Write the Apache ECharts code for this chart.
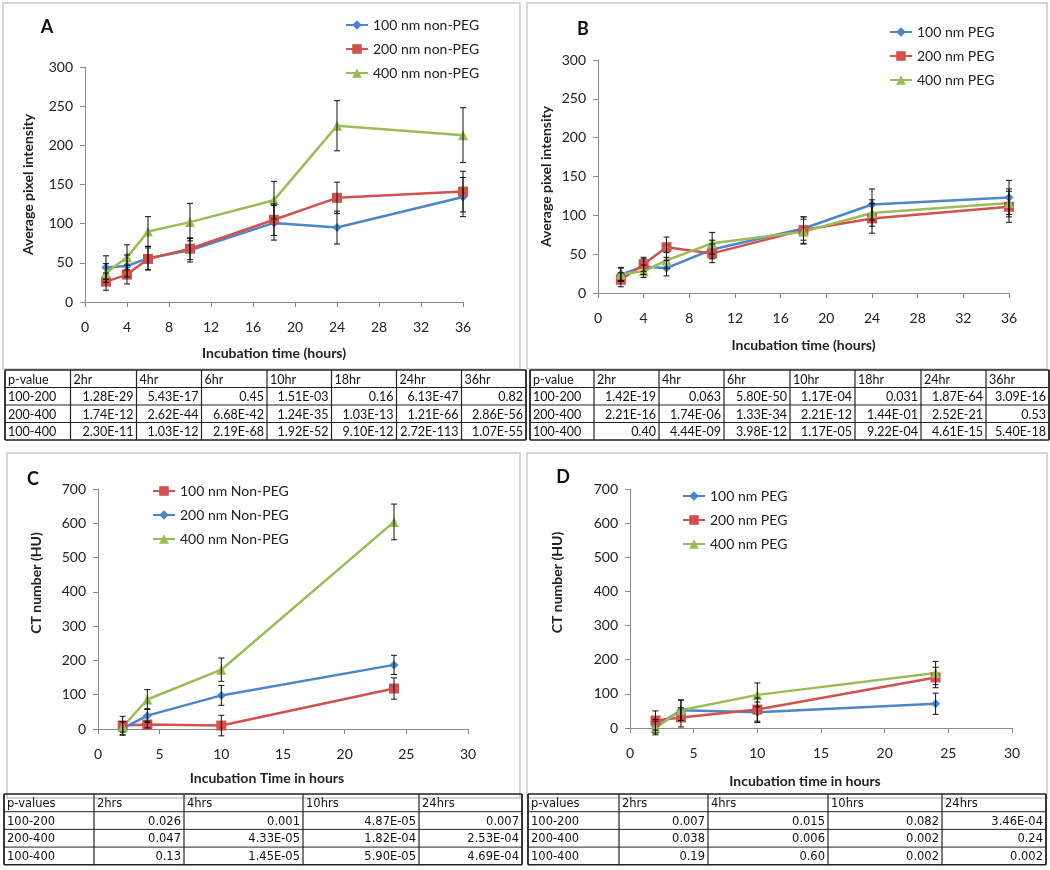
<!DOCTYPE html>
<html><head><meta charset="utf-8">
<script src="https://cdn.jsdelivr.net/npm/echarts@6/dist/echarts.min.js"></script>
<style>html,body{margin:0;padding:0;background:#fff}#c{width:1050px;height:870px}</style>
</head><body><div id="c"></div>
<script>
// ---------- DATA ----------
const hoursAB = [2, 4, 6, 10, 18, 24, 36];
const hoursCD = [2, 4, 10, 24];

// Panel A (non-PEG, pixel intensity)
const a100 = [44, 46, 56, 66, 101, 95, 134];
const a100Err = [15, 14, 15, 15, 22, 21, 25];
const a200 = [26, 35, 55, 68, 105, 133, 141];
const a200Err = [11, 12, 14, 14, 20, 20, 26];
const a400 = [37, 57, 90, 102, 130, 225, 213];
const a400Err = [12, 16, 19, 24, 24, 32, 35];

// Panel B (PEG, pixel intensity)
const b100 = [24, 34, 32, 56, 83, 114, 123];
const b100Err = [9, 10, 10, 12, 15, 20, 22];
const b200 = [17, 37, 59, 51, 81, 96, 111];
const b200Err = [9, 9, 13, 12, 17, 19, 20];
const b400 = [24, 28, 42, 64, 79, 103, 116];
const b400Err = [8, 8, 10, 14, 16, 17, 18];

// Panel C (non-PEG, CT number)
const c100 = [10, 13, 10, 118];
const c100Err = [27, 10, 30, 31];
const c200 = [2, 39, 98, 187];
const c200Err = [20, 20, 29, 28];
const c400 = [6, 86, 173, 604];
const c400Err = [15, 29, 34, 52];

// Panel D (PEG, CT number)
const d100 = [5, 52, 46, 71];
const d100Err = [20, 30, 30, 31];
const d200 = [22, 31, 54, 148];
const d200Err = [28, 28, 34, 30];
const d400 = [0, 52, 97, 161];
const d400Err = [20, 30, 35, 34];

// Tables
const tableAHead = ['p-value', '2hr', '4hr', '6hr', '10hr', '18hr', '24hr', '36hr'];
const tableARows = [
  ['100-200', '1.28E-29', '5.43E-17', '0.45', '1.51E-03', '0.16', '6.13E-47', '0.82'],
  ['200-400', '1.74E-12', '2.62E-44', '6.68E-42', '1.24E-35', '1.03E-13', '1.21E-66', '2.86E-56'],
  ['100-400', '2.30E-11', '1.03E-12', '2.19E-68', '1.92E-52', '9.10E-12', '2.72E-113', '1.07E-55']
];
const tableBHead = ['p-value', '2hr', '4hr', '6hr', '10hr', '18hr', '24hr', '36hr'];
const tableBRows = [
  ['100-200', '1.42E-19', '0.063', '5.80E-50', '1.17E-04', '0.031', '1.87E-64', '3.09E-16'],
  ['200-400', '2.21E-16', '1.74E-06', '1.33E-34', '2.21E-12', '1.44E-01', '2.52E-21', '0.53'],
  ['100-400', '0.40', '4.44E-09', '3.98E-12', '1.17E-05', '9.22E-04', '4.61E-15', '5.40E-18']
];
const tableCHead = ['p-values', '2hrs', '4hrs', '10hrs', '24hrs'];
const tableCRows = [
  ['100-200', '0.026', '0.001', '4.87E-05', '0.007'],
  ['200-400', '0.047', '4.33E-05', '1.82E-04', '2.53E-04'],
  ['100-400', '0.13', '1.45E-05', '5.90E-05', '4.69E-04']
];
const tableDHead = ['p-values', '2hrs', '4hrs', '10hrs', '24hrs'];
const tableDRows = [
  ['100-200', '0.007', '0.015', '0.082', '3.46E-04'],
  ['200-400', '0.038', '0.006', '0.002', '0.24'],
  ['100-400', '0.19', '0.60', '0.002', '0.002']
];

// ---------- STYLE / LAYOUT ----------
const BLUE = '#4A86C8', RED = '#D0524E', GREEN = '#9BBB59';
const FONT = 'Lato, "Open Sans", sans-serif';
const AXC = '#8a8a8a';

const chart = echarts.init(document.getElementById('c'));

function pairs(xs, ys) { return xs.map((x, i) => [x, ys[i]]); }
function errData(xs, ys, es) { return xs.map((x, i) => [x, ys[i] - es[i], ys[i] + es[i]]); }

function lineSeries(name, idx, xs, ys, color, symbol, size) {
  return {
    name, type: 'line', xAxisIndex: idx, yAxisIndex: idx,
    data: pairs(xs, ys), symbol, symbolSize: size,
    lineStyle: { color, width: 2.5 }, itemStyle: { color },
    z: 2, animation: false
  };
}
function errSeries(idx, xs, ys, es) {
  return {
    type: 'custom', xAxisIndex: idx, yAxisIndex: idx,
    data: errData(xs, ys, es), encode: { x: 0, y: [1, 2] }, z: 4, animation: false,
    renderItem: function (params, api) {
      const x = api.value(0);
      const lo = api.coord([x, api.value(1)]);
      const hi = api.coord([x, api.value(2)]);
      const w = 3, st = { stroke: '#111', lineWidth: 1 };
      return { type: 'group', children: [
        { type: 'line', shape: { x1: lo[0], y1: lo[1], x2: hi[0], y2: hi[1] }, style: st },
        { type: 'line', shape: { x1: lo[0] - w, y1: lo[1], x2: lo[0] + w, y2: lo[1] }, style: st },
        { type: 'line', shape: { x1: hi[0] - w, y1: hi[1], x2: hi[0] + w, y2: hi[1] }, style: st }
      ]};
    }
  };
}

const grids = [
  { left: 85, right: 587, top: 67, bottom: 568 },
  { left: 598, right: 41, top: 60, bottom: 577 },
  { left: 98, right: 582, top: 489, bottom: 141 },
  { left: 630, right: 38, top: 489, bottom: 142 }
];

function xAxis(idx, max, interval, name, gap, pad) {
  return {
    type: 'value', gridIndex: idx, min: 0, max, interval,
    axisLine: { show: true, onZero: false, lineStyle: { color: AXC, width: 1 } },
    axisTick: { show: true, inside: false, length: 5, lineStyle: { color: AXC } },
    splitLine: { show: false },
    axisLabel: { color: '#222', fontSize: 14, fontFamily: FONT, margin: 18 },
    name, nameLocation: 'middle', nameGap: gap,
    nameTextStyle: { color: '#222', fontSize: 14, fontWeight: 'bold', fontFamily: FONT, padding: pad || 0 }
  };
}
function yAxis(idx, max, interval, name, gap, pad) {
  return {
    type: 'value', gridIndex: idx, min: 0, max, interval,
    axisLine: { show: true, lineStyle: { color: AXC, width: 1 } },
    axisTick: { show: true, inside: false, length: 5, lineStyle: { color: AXC } },
    splitLine: { show: false },
    axisLabel: { color: '#222', fontSize: 14, fontFamily: FONT, margin: 12 },
    name, nameLocation: 'middle', nameGap: gap, nameRotate: 90,
    nameTextStyle: { color: '#222', fontSize: 14, fontWeight: 'bold', fontFamily: FONT, padding: pad || 0 }
  };
}
function legend(names, left, top, gap) {
  return {
    data: names, orient: 'vertical', left, top, itemWidth: 22, itemHeight: 12, itemGap: gap,
    selectedMode: false, padding: 0,
    textStyle: { color: '#222', fontSize: 14, fontFamily: FONT }
  };
}

// ---------- TABLES as graphic ----------
const graphics = [];
function frame(x, y, w, h) {
  graphics.push({ type: 'rect', shape: { x, y, width: w, height: h },
    style: { fill: 'none', stroke: '#c9c9c9', lineWidth: 1.5 }, silent: true, z: 0 });
}
function table(head, rows, cols, top, rowH, font, size) {
  const all = [head].concat(rows);
  const bottom = top + rowH * all.length;
  all.forEach((r, ri) => {
    r.forEach((txt, ci) => {
      const x0 = cols[ci], x1 = cols[ci + 1];
      const alignRight = ri > 0 && ci > 0;
      graphics.push({ type: 'text', z: 10, silent: true,
        style: { text: txt, x: alignRight ? x1 - 3 : x0 + 3, y: top + rowH * ri + rowH / 2 + 1,
          align: alignRight ? 'right' : 'left', verticalAlign: 'middle',
          fill: '#111', font: size + 'px ' + font } });
    });
  });
  for (let i = 0; i <= all.length; i++) {
    const y = top + rowH * i;
    graphics.push({ type: 'line', silent: true, z: 9,
      shape: { x1: cols[0], y1: y, x2: cols[cols.length - 1], y2: y },
      style: { stroke: '#222', lineWidth: (i === 0 || i === all.length) ? 1.6 : 1 } });
  }
  cols.forEach((x, i) => {
    graphics.push({ type: 'line', silent: true, z: 9,
      shape: { x1: x, y1: top, x2: x, y2: bottom },
      style: { stroke: '#222', lineWidth: (i === 0 || i === cols.length - 1) ? 1.8 : 1.2 } });
  });
}

frame(3, 3, 517, 366);
frame(527, 3, 520, 366);
frame(7, 453, 513, 345);
frame(527, 453, 520, 345);

table(tableAHead, tableARows, [5, 70.5, 136.5, 201.5, 267, 331.5, 396.5, 461.5, 526], 370, 17.5, FONT, 12.5);
table(tableBHead, tableBRows, [530, 594, 659, 724, 790, 855, 921, 986, 1049], 370, 17.5, FONT, 12.5);
table(tableCHead, tableCRows, [4, 94, 184, 303, 419, 522], 794, 17.7, '"DejaVu Sans", sans-serif', 11.5);
table(tableDHead, tableDRows, [528, 619, 708, 828, 942, 1046], 794, 17.7, '"DejaVu Sans", sans-serif', 11.5);

[['A', 47, 27], ['B', 583, 29], ['C', 33, 479], ['D', 563, 477]].forEach(l => {
  graphics.push({ type: 'text', silent: true, z: 10,
    style: { text: l[0], x: l[1], y: l[2], align: 'center', verticalAlign: 'middle',
      fill: '#111', font: 'bold 18px ' + FONT } });
});

const option = {
  backgroundColor: '#fff',
  animation: false,
  grid: grids,
  xAxis: [
    xAxis(0, 36, 4, 'Incubation time (hours)', 44),
    xAxis(1, 36, 4, 'Incubation time (hours)', 45),
    xAxis(2, 30, 5, 'Incubation Time in hours', 42, [0, 32, 0, 0]),
    xAxis(3, 30, 5, 'Incubation time in hours', 46, [0, 32, 0, 0])
  ],
  yAxis: [
    yAxis(0, 300, 50, 'Average pixel intensity', 50),
    yAxis(1, 300, 50, 'Average pixel intensity', 45),
    yAxis(2, 700, 100, 'CT number (HU)', 55, [0, 0, 0, 52]),
    yAxis(3, 700, 100, 'CT number (HU)', 66, [0, 0, 0, 52])
  ],
  legend: [
    legend(['100 nm non-PEG', '200 nm non-PEG', '400 nm non-PEG'], 345, 18, 10),
    legend(['100 nm PEG', '200 nm PEG', '400 nm PEG'], 889, 25, 10),
    legend(['100 nm Non-PEG', '200 nm Non-PEG', '400 nm Non-PEG'], 152, 484, 10),
    legend(['100 nm PEG', '200 nm PEG', '400 nm PEG'], 682, 489, 10)
  ],
  series: [
    lineSeries('100 nm non-PEG', 0, hoursAB, a100, BLUE, 'diamond', 9),
    lineSeries('200 nm non-PEG', 0, hoursAB, a200, RED, 'rect', 10),
    lineSeries('400 nm non-PEG', 0, hoursAB, a400, GREEN, 'triangle', 10),
    errSeries(0, hoursAB, a100, a100Err),
    errSeries(0, hoursAB, a200, a200Err),
    errSeries(0, hoursAB, a400, a400Err),

    lineSeries('100 nm PEG', 1, hoursAB, b100, BLUE, 'diamond', 9),
    lineSeries('200 nm PEG', 1, hoursAB, b200, RED, 'rect', 10),
    lineSeries('400 nm PEG', 1, hoursAB, b400, GREEN, 'triangle', 10),
    errSeries(1, hoursAB, b100, b100Err),
    errSeries(1, hoursAB, b200, b200Err),
    errSeries(1, hoursAB, b400, b400Err),

    lineSeries('100 nm Non-PEG', 2, hoursCD, c100, RED, 'rect', 10),
    lineSeries('200 nm Non-PEG', 2, hoursCD, c200, BLUE, 'diamond', 9),
    lineSeries('400 nm Non-PEG', 2, hoursCD, c400, GREEN, 'triangle', 10),
    errSeries(2, hoursCD, c100, c100Err),
    errSeries(2, hoursCD, c200, c200Err),
    errSeries(2, hoursCD, c400, c400Err),

    lineSeries('100 nm PEG', 3, hoursCD, d100, BLUE, 'diamond', 9),
    lineSeries('200 nm PEG', 3, hoursCD, d200, RED, 'rect', 10),
    lineSeries('400 nm PEG', 3, hoursCD, d400, GREEN, 'triangle', 10),
    errSeries(3, hoursCD, d100, d100Err),
    errSeries(3, hoursCD, d200, d200Err),
    errSeries(3, hoursCD, d400, d400Err)
  ],
  graphic: graphics
};
chart.setOption(option);
</script></body></html>
